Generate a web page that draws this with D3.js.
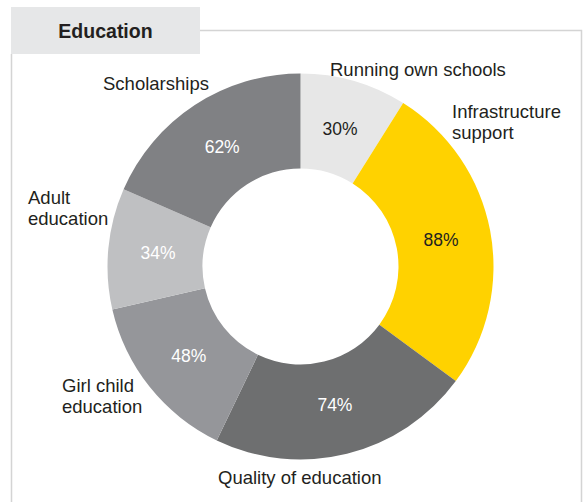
<!DOCTYPE html>
<html>
<head>
<meta charset="utf-8">
<script src="https://cdn.jsdelivr.net/npm/d3@7"></script>
<style>
  html, body { margin: 0; padding: 0; background: #ffffff; }
  svg { display: block; }
  text { font-family: "Liberation Sans", Arial, sans-serif; }
</style>
</head>
<body>
<div id="chart"></div>
<script>
// Education activities — share of respondents per activity
const categories = ["Running own schools", "Infrastructure support", "Quality of education",
                    "Girl child education", "Adult education", "Scholarships"];
const values = [30, 88, 74, 48, 34, 62];
const sliceColors = ["#e7e7e7", "#ffd200", "#6e6f70", "#95969a", "#bfc0c2", "#808184"];
const valueTextColors = ["#231f20", "#231f20", "#ffffff", "#ffffff", "#ffffff", "#ffffff"];
// Outside category labels: text lines and anchor placement
const labelLines = [["Running own schools"], ["Infrastructure", "support"], ["Quality of education"],
                    ["Girl child", "education"], ["Adult", "education"], ["Scholarships"]];
const labelPos = [[330, 76], [452, 118], [218, 484], [62, 392], [28, 204], [103, 90]];

const W = 583, H = 502;
const svg = d3.select("#chart").append("svg").attr("width", W).attr("height", H);

// Panel frame with title tab
const frame = svg.append("g");
frame.append("path")
  .attr("d", "M200,30.5 H581.5 V502 M11.5,54 V502")
  .attr("fill", "none").attr("stroke", "#d4d4d4").attr("stroke-width", 1.5);
frame.append("rect").attr("x", 11).attr("y", 7).attr("width", 189).attr("height", 47)
  .attr("fill", "#e6e7e8");
frame.append("text").attr("x", 105.5).attr("y", 38).attr("text-anchor", "middle")
  .attr("font-size", 19.5).attr("font-weight", "bold").attr("fill", "#231f20")
  .text("Education");

// Donut
const cx = 300.5, cy = 266.5, rOuter = 193, rInner = 98;
const pie = d3.pie().sort(null).value(d => d).startAngle(0).endAngle(2 * Math.PI);
const arcs = pie(values);
const arc = d3.arc().innerRadius(rInner).outerRadius(rOuter);
const labelArc = d3.arc().innerRadius(143).outerRadius(143);

const g = svg.append("g").attr("transform", `translate(${cx},${cy})`);
g.selectAll("path.slice").data(arcs).join("path")
  .attr("class", "slice")
  .attr("d", arc)
  .attr("fill", (d, i) => sliceColors[i]);

g.selectAll("text.value").data(arcs).join("text")
  .attr("class", "value")
  .attr("transform", d => `translate(${labelArc.centroid(d)})`)
  .attr("text-anchor", "middle")
  .attr("dy", "0.35em")
  .attr("font-size", 17.5)
  .attr("fill", (d, i) => valueTextColors[i])
  .text(d => d.data + "%");

// Category labels around the ring
const lab = svg.append("g");
categories.forEach((c, i) => {
  const t = lab.append("text")
    .attr("x", labelPos[i][0]).attr("y", labelPos[i][1])
    .attr("font-size", 18.5).attr("fill", "#231f20");
  labelLines[i].forEach((line, j) => {
    t.append("tspan").attr("x", labelPos[i][0]).attr("dy", j === 0 ? 0 : 20.5).text(line);
  });
});
</script>
</body>
</html>
